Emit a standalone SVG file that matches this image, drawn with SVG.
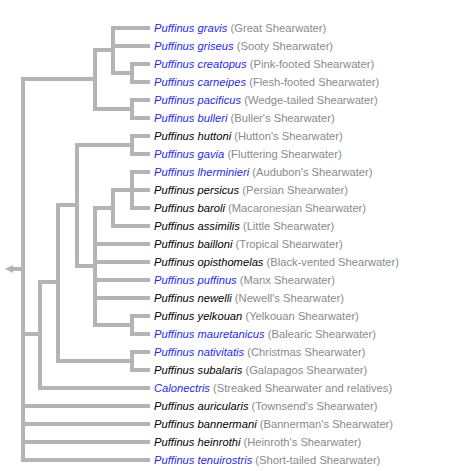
<svg xmlns="http://www.w3.org/2000/svg" width="450" height="471" viewBox="0 0 450 471">
<style>
.e{stroke:#b3b3b8;stroke-width:4;fill:none;stroke-linecap:butt}
text{font-family:"Liberation Sans",Arial,sans-serif;font-size:11.2px}
.n{font-style:italic}
.b{fill:#1f1fff}
.k{fill:#000}
.c{fill:#8a8a8a}
</style>
<rect width="450" height="471" fill="#fff"/>
<g id="connectors">
<polygon points="5,269 13,265 13,273" fill="#b3b3b8"/>
<path class="e" d="M13,269H23 M23,77V462 M23,79H95 M95,48V111 M95,50H113 M113,26V75 M113,28H150 M113,46H150 M113,73H132 M132,62V84 M132,64H150 M132,82H150 M95,109H132 M132,98V120 M132,100H150 M132,118H150 M23,334H40 M40,280V390 M40,388H150 M40,282H58 M58,203V363 M58,361H132 M132,350V372 M132,352H150 M132,370H150 M58,205H77 M77,143V268 M77,145H132 M132,134V156 M132,136H150 M132,154H150 M77,266H95 M95,206V327 M95,208H113 M113,188V228 M113,226H150 M113,190H150 M132,170V210 M132,172H150 M132,208H150 M95,244H150 M95,262H150 M95,280H150 M95,298H150 M95,325H132 M132,314V336 M132,316H150 M132,334H150 M23,406H150 M23,424H150 M23,442H150 M23,460H150"/>
</g>
<g id="n0"><text x="154" y="32"><tspan class="n b">Puffinus gravis</tspan><tspan class="c"> (Great Shearwater)</tspan></text></g>
<g id="n1"><text x="154" y="50"><tspan class="n b">Puffinus griseus</tspan><tspan class="c"> (Sooty Shearwater)</tspan></text></g>
<g id="n2"><text x="154" y="68"><tspan class="n b">Puffinus creatopus</tspan><tspan class="c"> (Pink-footed Shearwater)</tspan></text></g>
<g id="n3"><text x="154" y="86"><tspan class="n b">Puffinus carneipes</tspan><tspan class="c"> (Flesh-footed Shearwater)</tspan></text></g>
<g id="n4"><text x="154" y="104"><tspan class="n b">Puffinus pacificus</tspan><tspan class="c"> (Wedge-tailed Shearwater)</tspan></text></g>
<g id="n5"><text x="154" y="122"><tspan class="n b">Puffinus bulleri</tspan><tspan class="c"> (Buller's Shearwater)</tspan></text></g>
<g id="n6"><text x="154" y="140"><tspan class="n k">Puffinus huttoni</tspan><tspan class="c"> (Hutton's Shearwater)</tspan></text></g>
<g id="n7"><text x="154" y="158"><tspan class="n b">Puffinus gavia</tspan><tspan class="c"> (Fluttering Shearwater)</tspan></text></g>
<g id="n8"><text x="154" y="176"><tspan class="n b">Puffinus lherminieri</tspan><tspan class="c"> (Audubon's Shearwater)</tspan></text></g>
<g id="n9"><text x="154" y="194"><tspan class="n k">Puffinus persicus</tspan><tspan class="c"> (Persian Shearwater)</tspan></text></g>
<g id="n10"><text x="154" y="212"><tspan class="n k">Puffinus baroli</tspan><tspan class="c"> (Macaronesian Shearwater)</tspan></text></g>
<g id="n11"><text x="154" y="230"><tspan class="n k">Puffinus assimilis</tspan><tspan class="c"> (Little Shearwater)</tspan></text></g>
<g id="n12"><text x="154" y="248"><tspan class="n k">Puffinus bailloni</tspan><tspan class="c"> (Tropical Shearwater)</tspan></text></g>
<g id="n13"><text x="154" y="266"><tspan class="n k">Puffinus opisthomelas</tspan><tspan class="c"> (Black-vented Shearwater)</tspan></text></g>
<g id="n14"><text x="154" y="284"><tspan class="n b">Puffinus puffinus</tspan><tspan class="c"> (Manx Shearwater)</tspan></text></g>
<g id="n15"><text x="154" y="302"><tspan class="n k">Puffinus newelli</tspan><tspan class="c"> (Newell's Shearwater)</tspan></text></g>
<g id="n16"><text x="154" y="320"><tspan class="n k">Puffinus yelkouan</tspan><tspan class="c"> (Yelkouan Shearwater)</tspan></text></g>
<g id="n17"><text x="154" y="338"><tspan class="n b">Puffinus mauretanicus</tspan><tspan class="c"> (Balearic Shearwater)</tspan></text></g>
<g id="n18"><text x="154" y="356"><tspan class="n b">Puffinus nativitatis</tspan><tspan class="c"> (Christmas Shearwater)</tspan></text></g>
<g id="n19"><text x="154" y="374"><tspan class="n k">Puffinus subalaris</tspan><tspan class="c"> (Galapagos Shearwater)</tspan></text></g>
<g id="n20"><text x="154" y="392"><tspan class="n b">Calonectris</tspan><tspan class="c"> (Streaked Shearwater and relatives)</tspan></text></g>
<g id="n21"><text x="154" y="410"><tspan class="n k">Puffinus auricularis</tspan><tspan class="c"> (Townsend's Shearwater)</tspan></text></g>
<g id="n22"><text x="154" y="428"><tspan class="n k">Puffinus bannermani</tspan><tspan class="c"> (Bannerman's Shearwater)</tspan></text></g>
<g id="n23"><text x="154" y="446"><tspan class="n k">Puffinus heinrothi</tspan><tspan class="c"> (Heinroth's Shearwater)</tspan></text></g>
<g id="n24"><text x="154" y="464"><tspan class="n b">Puffinus tenuirostris</tspan><tspan class="c"> (Short-tailed Shearwater)</tspan></text></g>
</svg>
